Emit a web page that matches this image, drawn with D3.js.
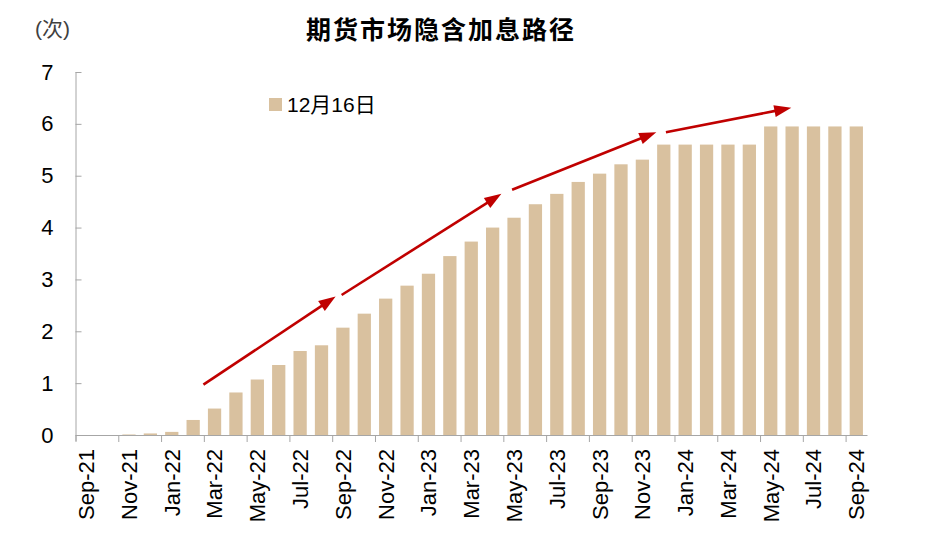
<!DOCTYPE html>
<html>
<head>
<meta charset="utf-8">
<script src="https://cdn.jsdelivr.net/npm/d3@7"></script>
<style>
    body { margin: 0; background: #fff; }
    text { font-family: "Liberation Sans", Arial, "Noto Sans CJK SC", sans-serif; }
</style>
</head>
<body>
<svg id="canvas" width="925" height="540"></svg>
<script>
// categories: monthly, Sep-21 .. Sep-24
const months = d3.timeMonths(new Date(2021, 8, 1), new Date(2024, 9, 1));
const monthLabels = months.map(d3.timeFormat("%b-%y"));

// implied number of hikes, 12月16日 curve
const hikes = [
    0, 0, 0.01, 0.03,
    0.06, 0.29, 0.51, 0.82, 1.07, 1.35, 1.62, 1.73, 2.07, 2.34, 2.63, 2.88,
    3.11, 3.45, 3.73, 4.00, 4.19, 4.45, 4.65, 4.88, 5.04, 5.22, 5.31, 5.60,
    5.60, 5.60, 5.60, 5.60, 5.95, 5.95, 5.95, 5.95, 5.95
];

const yTicks = [0, 1, 2, 3, 4, 5, 6, 7];
const seriesName = "12月16日";
const title = "期货市场隐含加息路径";
const unitLabel = "(次)";

// trend arrows, in [category position, value]
const arrowFrom = [[5.98, 0.97], [12.44, 2.70], [20.41, 4.73], [27.6, 5.84]];
const arrowTo   = [[12.16, 2.67], [19.91, 4.65], [27.15, 5.84], [33.46, 6.31]];

const BAR_COLOR = "#d9c19f";
const AXIS_COLOR = "#a6a6a6";
const ARROW_COLOR = "#c00000";

var svg = d3.select("#canvas");
var plotLeft = 75.5, plotRight = 867, plotTop = 72, plotBottom = 435;

var x = d3.scaleBand()
    .domain(monthLabels)
    .range([plotLeft, plotRight])
    .paddingInner(0.38)
    .paddingOuter(0.19);

// continuous position over the categories (for ticks and arrows)
var xPos = d3.scaleLinear()
    .domain([0, monthLabels.length])
    .range([plotLeft, plotRight]);

var y = d3.scaleLinear()
    .domain([0, 7])
    .range([plotBottom, plotTop]);

// bars
svg.append("g").selectAll("rect")
    .data(hikes)
    .enter().append("rect")
    .attr("x", function(d, i){ return x(monthLabels[i]); })
    .attr("y", function(d){ return y(d); })
    .attr("width", x.bandwidth())
    .attr("height", function(d){ return y(0) - y(d); })
    .attr("fill", BAR_COLOR);

// y axis, ticks pointing in
var yAxis = svg.append("g")
    .attr("transform", "translate(" + plotLeft + ",0)")
    .call(d3.axisLeft(y).tickValues(yTicks).tickFormat(d3.format("d"))
        .tickSizeInner(-6).tickSizeOuter(0).tickPadding(22));
yAxis.select(".domain").attr("stroke", AXIS_COLOR).attr("d", "M0.5," + plotTop + "V" + (plotBottom + 6));
yAxis.selectAll(".tick line").attr("stroke", AXIS_COLOR);
yAxis.selectAll(".tick text")
    .attr("font-size", "22px")
    .attr("fill", "#000")
    .style("font-family", "'Liberation Sans', Arial, sans-serif");

// x axis ticks every two months at category boundaries
var tickIdx = d3.range(0, monthLabels.length, 2);
var xAxis = svg.append("g")
    .attr("transform", "translate(0," + plotBottom + ")")
    .call(d3.axisBottom(xPos).tickValues(tickIdx).tickFormat("").tickSizeInner(7).tickSizeOuter(0));
xAxis.select(".domain").attr("stroke", AXIS_COLOR);
xAxis.selectAll(".tick line").attr("stroke", AXIS_COLOR);

// x labels, rotated
svg.append("g").selectAll("text")
    .data(tickIdx)
    .enter().append("text")
    .attr("transform", function(i){
        return "translate(" + (x(monthLabels[i]) + x.bandwidth() / 2) + "," + (plotBottom + 14) + ") rotate(-90)";
    })
    .attr("text-anchor", "end")
    .attr("dy", "0.36em")
    .attr("font-size", "22px")
    .attr("fill", "#000")
    .text(function(i){ return monthLabels[i]; });

// arrows
var HEAD_LEN = 17, HEAD_W = 12;
var arrows = svg.append("g");
for (var a = 0; a < arrowFrom.length; a++){
    var x1 = xPos(arrowFrom[a][0]), y1 = y(arrowFrom[a][1]);
    var x2 = xPos(arrowTo[a][0]), y2 = y(arrowTo[a][1]);
    var len = Math.sqrt((x2 - x1) * (x2 - x1) + (y2 - y1) * (y2 - y1));
    var ux = (x2 - x1) / len, uy = (y2 - y1) / len;
    var bx = x2 - ux * HEAD_LEN, by = y2 - uy * HEAD_LEN;
    arrows.append("line")
        .attr("x1", x1).attr("y1", y1)
        .attr("x2", bx + ux * 2).attr("y2", by + uy * 2)
        .attr("stroke", ARROW_COLOR)
        .attr("stroke-width", 2.6);
    arrows.append("path")
        .attr("d", "M" + x2 + "," + y2 +
            "L" + (bx - uy * HEAD_W / 2) + "," + (by + ux * HEAD_W / 2) +
            "L" + (bx + uy * HEAD_W / 2) + "," + (by - ux * HEAD_W / 2) + "Z")
        .attr("fill", ARROW_COLOR);
}

// legend
svg.append("rect")
    .attr("x", 269).attr("y", 98)
    .attr("width", 13).attr("height", 13)
    .attr("fill", BAR_COLOR);
svg.append("text")
    .attr("x", 287).attr("y", 112)
    .attr("font-size", "21px")
    .attr("fill", "#000")
    .text(seriesName);

// title and unit
svg.append("text")
    .attr("x", 441).attr("y", 39)
    .attr("text-anchor", "middle")
    .attr("font-size", "25px")
    .attr("font-weight", "bold")
    .attr("letter-spacing", "2px")
    .style("font-family", "'Noto Sans CJK SC', sans-serif")
    .attr("fill", "#000")
    .text(title);
svg.append("text")
    .attr("x", 35).attr("y", 36)
    .attr("font-size", "21px")
    .attr("fill", "#404040")
    .text(unitLabel);
</script>
</body>
</html>
